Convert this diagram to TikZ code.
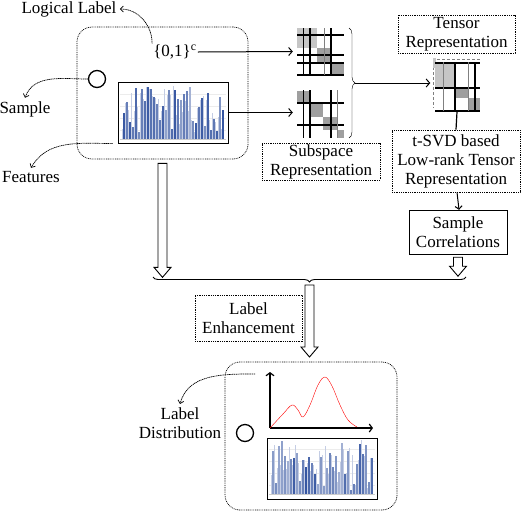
\documentclass[tikz,border=0pt]{standalone}
\usepackage{fontspec}
\setmainfont{Liberation Serif}
\usetikzlibrary{positioning,decorations.pathreplacing,arrows.meta}
\definecolor{barblue}{RGB}{52,84,160}
\definecolor{barpale}{RGB}{196,205,228}

\begin{document}
\begin{tikzpicture}[x=1pt, y=-1pt,
        every node/.style={font=\fontsize{17}{19}\selectfont, align=center},
        dotbox/.style={draw, line width=0.7pt, dash pattern=on 0.9pt off 0.9pt, inner sep=0pt},
        solidbox/.style={draw, inner sep=0pt},
        circ/.style={circle, draw, line width=1.3pt, minimum size=17pt, inner sep=0pt},
        chart/.style={draw, line width=1pt, minimum width=110pt, minimum height=61pt, inner sep=0pt},
        matbox/.style={minimum width=47pt, minimum height=47pt, inner sep=0pt},
        note/.style={line width=0.7pt, dash pattern=on 1.2pt off 0.6pt, -{Straight Barb[length=3pt,width=6pt]}},
        arr/.style={line width=1pt, -{Straight Barb[length=3.5pt,width=8pt]}},
        mline/.style={line width=1.1pt},
        pics/hollowarrow/.style={code={
            \draw[line width=0.9pt, fill=white] (-4.5,0) -- (-4.5,#1-10) -- (-8.5,#1-10) -- (0,#1)
                -- (8.5,#1-10) -- (4.5,#1-10) -- (4.5,0) -- cycle;}}]
    \useasboundingbox (0,0) rectangle (524,512);

    % bar charts
    \foreach \cx/\cy/\sd in {118/82/3, 267/437/9} {
        \pgfmathsetseed{\sd}
        \foreach \g in {12,24,36,48} \draw[gray!15] (\cx+2,\cy+\g) -- (\cx+108,\cy+\g);
        \foreach \i in {0,...,33} {
            \pgfmathsetmacro\hpale{6+48*rnd}
            \pgfmathsetmacro\hblue{3+50*rnd^0.7}
            \pgfmathsetmacro\shade{int(45+55*rnd)}
            \fill[barpale] (\cx+4+3*\i,\cy+57) rectangle ++(1.3,-\hpale);
            \fill[barblue!\shade!white] (\cx+5.3+3*\i,\cy+57) rectangle ++(1.3,-\hblue);
        }
        \draw[gray!40] (\cx+2,\cy+57) -- (\cx+108,\cy+57);
    }

    % top left
    \node (logical) at (69,9) {Logical Label};
    \node (sample) at (25,109) {Sample};
    \node (features) at (31,177) {Features};
    \node[dotbox, rounded corners=15pt, minimum width=171pt, minimum height=132pt] (topbox) at (162.5,93) {};
    \node[inner sep=1pt] (lab01) at (175,52) {\{0,1\}\textsuperscript{c}};
    \node[circ] (circ1) at (97,79) {};
    \node[chart] (feat) at (173,112.5) {};

    \draw[note] (lab01.north west) to[out=90,in=0] (logical.east);
    \draw[note] (circ1.west) to[out=180,in=70] (sample.north);
    \draw[note] ([xshift=-5pt]feat.south west) to[out=180,in=60] (features.north);

    % subspace matrices
    \fill[gray!45] (297,28) rectangle (317,48);
    \fill[gray!75] (317,48) rectangle (331,62);
    \fill[gray!75] (331,62) rectangle (344,75);
    \foreach \y in {35,55,63,75} \draw[mline] (297,\y) -- (344,\y);
    \foreach \x in {310,331} \draw[mline] (\x,28) -- (\x,75);
    \draw (303,28) -- (303,75);
    \draw[gray] (324,28) -- (324,75);
    \node[matbox] (mat1) at (320.5,51.5) {};

    \fill[gray!75] (297,91) rectangle (310,103);
    \fill[gray!75] (310,103) rectangle (323,117);
    \fill[gray!75] (323,117) rectangle (337,130);
    \fill[gray!75] (337,130) rectangle (344,138);
    \foreach \y in {103,125} \draw[mline] (297,\y) -- (344,\y);
    \foreach \x in {310,331} \draw[mline] (\x,90) -- (\x,138);
    \draw (303,90) -- (303,138);
    \draw[gray] (337,90) -- (337,138);
    \node[matbox] (mat2) at (320.5,114) {};

    \draw[arr] (lab01.east) -- ([xshift=-4pt]mat1.west);
    \draw[arr] (feat.east) -- ([xshift=-4pt]feat.east -| mat2.west);
    \draw[decorate, decoration={brace, amplitude=6pt}] (349,28) -- (349,138);
    \coordinate (btip) at (355,83);
    \node[dotbox, minimum width=118pt, minimum height=37pt] (subspace) at (321,161.5) {Subspace\\Representation};

    % tensor
    \draw[gray, densely dashed] (437,59) -- (481,59);
    \draw[gray, densely dashed] (433,62) -- (433,108);
    \fill[gray!45] (433,58) rectangle (436,68);
    \fill[gray!45] (435,62) rectangle (455,88);
    \fill[gray!75] (455,88) rectangle (468,98);
    \fill[gray!75] (468,98) rectangle (480,111);
    \foreach \y in {63,88,111} \draw[mline] (435,\y) -- (480,\y);
    \foreach \x in {455,475} \draw[mline] (\x,62) -- (\x,111);
    \draw[gray] (443,62) -- (443,111);
    \draw[gray] (468,62) -- (468,111);
    \node[minimum width=47pt, minimum height=53pt, inner sep=0pt] (ten) at (457,85) {};
    \node[dotbox, minimum width=117pt, minimum height=38pt] (tensorbox) at (456.5,34) {Tensor\\Representation};

    \draw[arr] (btip) -- ([xshift=-3pt]btip -| ten.west);

    % right column
    \node[dotbox, minimum width=128pt, minimum height=62pt] (tsvd) at (456,161) {t-SVD based\\Low-rank Tensor\\Representation};
    \node[solidbox, minimum width=98pt, minimum height=44pt] (corr) at (458,232) {Sample\\Correlations};
    \draw[line width=1.2pt] (ten.south) -- (tsvd.north);
    \draw[line width=1pt, -{Straight Barb[length=3pt,width=7pt]}] ([xshift=1pt]tsvd.south) -- ([xshift=1pt]corr.north);

    % merging
    \pic at ([yshift=-4pt]topbox.south) {hollowarrow=114};
    \pic at ([yshift=-3pt]corr.south) {hollowarrow=19};
    \coordinate (jl) at (153,277);
    \coordinate (jr) at (466,277);
    \draw[line width=0.9pt, decorate, decoration={brace, mirror, amplitude=5pt}] (jl) -- (jr);
    \coordinate (jm) at (309.5,285);
    \pic at (jm) {hollowarrow=72};
    \node[dotbox, minimum width=107pt, minimum height=46pt] (enh) at (248.5,318) {Label\\Enhancement};

    % bottom
    \node[dotbox, rounded corners=15pt, minimum width=172pt, minimum height=148pt] (botbox) at (311,436) {};
    \node[circ] (circ2) at (245,433) {};
    \draw[line width=1.2pt, -{Straight Barb[length=3pt,width=8pt]}] (270,428) -- (270,372);
    \draw[line width=1.2pt, -{Straight Barb[length=3pt,width=8pt]}] (270,428) -- (373,428);
    \draw[red] plot[smooth, tension=0.6] coordinates {(270,428) (283,414) (292,405) (298,410) (303,417)
        (310,405) (318,385) (325,377) (332,386) (340,405) (348,420) (357,427)};
    \node[chart] (feat2) at (322,469) {};
    \node (dist) at (180,423) {Label\\Distribution};
    \coordinate (distpt) at (255,374);
    \draw[note] (distpt) to[out=180,in=75] (dist.north);
\end{tikzpicture}
\end{document}
